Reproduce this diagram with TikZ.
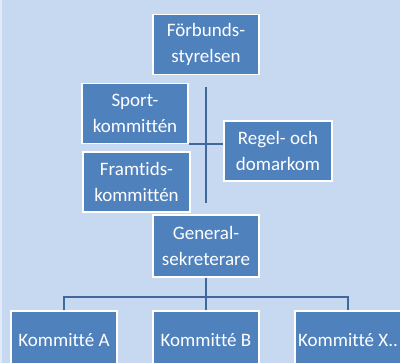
\documentclass[tikz,border=0pt]{standalone}
\usepackage{fontspec}
\setmainfont[Ligatures={NoCommon}]{Carlito}
\usetikzlibrary{calc}
\definecolor{bgblue}{HTML}{C6D9F1}
\definecolor{boxblue}{HTML}{4F81BD}
\definecolor{lineblue}{HTML}{41689A}

\begin{document}
\begin{tikzpicture}[%
    x=1pt, y=-1pt,
    unit/.style = {draw=white, line width=1.5pt, fill=boxblue, text=white,
        minimum width=106pt, minimum height=60pt, inner sep=0pt,
        align=center, font=\fontsize{19}{26.5}\selectfont},
    link/.style = {draw=lineblue, line width=2.2pt}
]
\fill[bgblue] (0,0) rectangle (400,363);
\fill[bgblue!50!white] (0,0) rectangle (2,363);
\useasboundingbox (0,0) rectangle (400,363);

\node (fs) [unit] at (206,44.5) {Förbunds-\\styrelsen};
\node (sport) [unit] at (135,113.5) {Sport-\\kommittén};
\node (regel) [unit, minimum width=108pt] at (278,151) {Regel- och\\domarkom};
\node (framtid) [unit, minimum width=107pt] at (136.5,182) {Framtids-\\kommittén};
\node (gs) [unit, minimum height=62pt] at (206,246) {General-\\sekreterare};

\foreach \name/\x/\txt in {kA/64/A, kB/206/B, kX/348/X..} {
    \node (\name) [unit, minimum height=58pt] at (\x,340) {Kommitté \txt};
}

\coordinate (bus) at ($(gs.south)+(0,19)$);
\path[link]
    (fs) edge [shorten <=12pt, shorten >=11pt] (gs)
    (sport.south east) edge (sport.south east -| regel.west)
    (gs) edge (bus)
    (kA.north) -- (kA.north |- bus) -- (kX.north |- bus) -- (kX.north)
    (kB.north) edge (bus);
\end{tikzpicture}
\end{document}
